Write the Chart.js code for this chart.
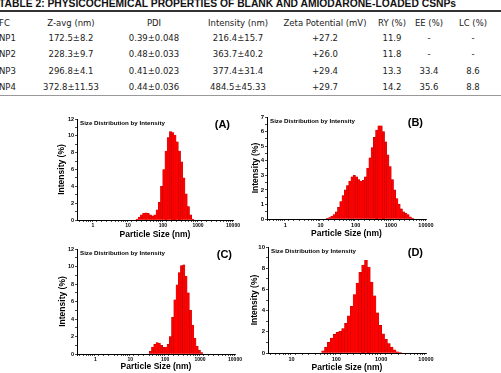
<!DOCTYPE html>
<html>
<head>
<meta charset="utf-8">
<script src="https://cdn.jsdelivr.net/npm/chart.js@4.4.0/dist/chart.umd.min.js"></script>
<style>
  html, body { margin: 0; padding: 0; background: #fff; }
  body { width: 501px; height: 373px; position: relative; overflow: hidden; }
  #tbl { position: absolute; left: 0; top: 0; width: 501px; height: 100px; font-family: "DejaVu Sans"; font-size: 8.5px; color: #222; }
  .cap { position: absolute; left: -1px; top: -1px; font: bold 10.3px/10px "Liberation Sans", Arial; white-space: nowrap; color: #111; }
  .rule { position: absolute; left: 0; width: 501px; }
  .cell { position: absolute; white-space: nowrap; line-height: 10px; transform: translate(-50%, -50%); }
  .cell.first { transform: translate(0, -50%); }
  canvas { position: absolute; }
</style>
</head>
<body>
<div id="tbl">
  <div class="cap">TABLE 2: PHYSICOCHEMICAL PROPERTIES OF BLANK AND AMIODARONE-LOADED CSNPs</div>
  <div class="rule" style="top:9.5px;height:2px;background:#333"></div>
  <div class="rule" style="top:95px;height:1px;background:#999"></div>
</div>
<canvas id="cA" width="195" height="132" style="left:55px;top:108px"></canvas>
<canvas id="cB" width="190" height="131" style="left:249px;top:108px"></canvas>
<canvas id="cC" width="195" height="132" style="left:55px;top:240px"></canvas>
<canvas id="cD" width="190" height="135" style="left:249px;top:238px"></canvas>
<script>
// table 2
const tableHead = ['FC', 'Z-avg (nm)', 'PDI', 'Intensity (nm)', 'Zeta Potential (mV)', 'RY (%)', 'EE (%)', 'LC (%)'];
const formulations = ['NP1', 'NP2', 'NP3', 'NP4'];
const zAverage = ['172.5±8.2', '228.3±9.7', '296.8±4.1', '372.8±11.53'];
const pdi = ['0.39±0.048', '0.48±0.033', '0.41±0.023', '0.44±0.036'];
const intensityPeak = ['216.4±15.7', '363.7±40.2', '377.4±31.4', '484.5±45.33'];
const zeta = ['+27.2', '+26.0', '+29.4', '+29.7'];
const ry = ['11.9', '11.8', '13.3', '14.2'];
const ee = ['-', '-', '33.4', '35.6'];
const lc = ['-', '-', '8.6', '8.8'];

// size bins (nm) and intensity (%) per sample
const sizeNm = [13.54, 15.69, 18.17, 21.04, 24.36, 28.21, 32.67, 37.84, 43.82, 50.75,
  58.77, 68.06, 78.82, 91.28, 105.7, 122.4, 141.8, 164.2, 190.1, 220.2,
  255.0, 295.3, 342.0, 396.1, 458.7, 531.2, 615.1, 712.4, 825.0, 955.4,
  1106, 1281, 1484, 1718, 1990, 2305, 2669, 3091, 3580, 4145, 4801];
const intensityA = [0, 0, 0.1, 0.35, 0.6, 0.8, 0.85, 0.8, 0.6, 0.5,
  0.6, 1.2, 2.1, 4.0, 6.0, 8.2, 9.8, 10.5, 10.4, 10.1,
  9.3, 8.2, 6.9, 5.0, 3.1, 1.6, 0.6, 0.1, 0, 0,
  0, 0, 0, 0, 0, 0, 0, 0, 0, 0, 0];
const intensityB = [0, 0.05, 0.1, 0.2, 0.3, 0.5, 0.8, 1.2, 1.6, 2.0,
  2.3, 2.6, 2.9, 3.0, 2.9, 2.7, 2.6, 2.65, 2.9, 3.5,
  4.2, 4.9, 5.6, 6.1, 6.4, 6.4, 6.0, 5.3, 4.4, 3.6,
  2.7, 2.0, 1.4, 1.0, 0.7, 0.5, 0.4, 0.3, 0.15, 0.05, 0];
const intensityC = [0, 0, 0, 0, 0, 0, 0, 0.3, 0.8, 1.1,
  1.3, 1.25, 1.0, 0.75, 0.8, 1.1, 2.0, 4.2, 6.2, 7.9,
  9.3, 10.1, 10.2, 8.9, 7.0, 5.0, 3.3, 1.8, 0.9, 0.45,
  0.15, 0, 0, 0, 0, 0, 0, 0, 0, 0, 0];
const intensityD = [0, 0, 0, 0, 0, 0, 0, 0, 0, 0.2,
  0.55, 1.0, 1.4, 1.75, 1.95, 2.05, 2.3, 2.8, 3.5, 4.4,
  5.5, 6.6, 7.6, 8.3, 8.75, 8.1, 6.7, 5.4, 3.8, 2.6,
  1.8, 1.3, 0.9, 0.55, 0.3, 0.12, 0.04, 0, 0, 0, 0];

// draw the table text
const tbl = document.getElementById('tbl');
const colX = [-1, 71, 154, 238, 325, 392, 429, 473];
const rowY = [22.7, 38.3, 54.3, 70.8, 87.3];
const rows = [tableHead].concat(formulations.map((f, i) =>
  [f, zAverage[i], pdi[i], intensityPeak[i], zeta[i], ry[i], ee[i], lc[i]]));
rows.forEach((r, ri) => {
  r.forEach((txt, ci) => {
    const d = document.createElement('div');
    d.className = 'cell' + (ci === 0 ? ' first' : '');
    d.style.left = colX[ci] + 'px';
    d.style.top = rowY[ri] + 'px';
    d.textContent = txt;
    tbl.appendChild(d);
  });
});

const panelText = {
  id: 'panelText',
  afterDraw(chart, args, o) {
    const { ctx, chartArea: a } = chart;
    ctx.save();
    ctx.fillStyle = '#000';
    ctx.textBaseline = 'middle';
    ctx.textAlign = 'left';
    ctx.font = 'bold 6.2px "Liberation Sans"';
    ctx.fillText('Size Distribution by Intensity', a.left + 3, a.top + 4);
    ctx.textAlign = 'right';
    ctx.font = 'bold 11px "Liberation Sans"';
    ctx.fillText(o.letter, a.right - 3, a.top + 5.5);
    ctx.restore();
  }
};

const isDecade = v => {
  const l = Math.log10(v);
  return Math.abs(l - Math.round(l)) < 1e-6;
};

const panels = [
  { id: 'cA', values: intensityA, letter: '(A)', yMax: 12, yStep: 1, yEvery: 2, xMin: 0.35, tick: 5.5, axisW: 22, axisH: 20, pad: { top: 11, right: 17 }, titlePad: 2 },
  { id: 'cB', values: intensityB, letter: '(B)', yMax: 7, yStep: 0.5, yEvery: 1, xMin: 0.3, tick: 6, axisW: 18, axisH: 20, pad: { top: 9, right: 13 }, titlePad: 2 },
  { id: 'cC', values: intensityC, letter: '(C)', yMax: 12, yStep: 1, yEvery: 2, xMin: 0.3, tick: 5.5, axisW: 22, axisH: 18, pad: { top: 9, right: 15 }, titlePad: 3 },
  { id: 'cD', values: intensityD, letter: '(D)', yMax: 10, yStep: 1, yEvery: 2, xMin: 3, tick: 6, axisW: 19, axisH: 20, pad: { top: 9, right: 13 }, titlePad: 1 }
];

panels.forEach(p => {
  new Chart(document.getElementById(p.id), {
    type: 'bar',
    data: {
      labels: sizeNm,
      datasets: [{
        data: p.values,
        backgroundColor: '#ff0000',
        borderColor: '#b00000',
        borderWidth: 0.4,
        barThickness: 'flex',
        barPercentage: 1,
        categoryPercentage: 1
      }]
    },
    options: {
      responsive: false,
      animation: false,
      devicePixelRatio: 1,
      layout: { padding: { left: 0, top: p.pad.top, right: p.pad.right, bottom: 0 } },
      plugins: {
        legend: { display: false },
        tooltip: { enabled: false },
        panelText: { letter: p.letter }
      },
      scales: {
        x: {
          type: 'logarithmic',
          min: p.xMin,
          max: 10000,
          afterFit: s => { s.height = p.axisH; },
          border: { color: '#000', width: 1 },
          grid: { drawOnChartArea: false, color: '#000', tickLength: 2, lineWidth: 0.7 },
          ticks: {
            autoSkip: false, maxRotation: 0, padding: 1, color: '#000',
            font: { family: 'Liberation Sans', size: p.tick - 0.5, weight: 'bold' },
            callback: v => isDecade(v) ? String(v) : ''
          },
          title: {
            display: true, text: 'Particle Size (nm)', color: '#000', padding: 0,
            font: { family: 'Liberation Sans', size: 8.5, weight: 'bold' }
          }
        },
        y: {
          min: 0,
          max: p.yMax,
          afterFit: s => { s.width = p.axisW; },
          border: { color: '#000', width: 1 },
          grid: { drawOnChartArea: false, color: '#000', tickLength: 2, lineWidth: 0.7 },
          ticks: {
            stepSize: p.yStep, autoSkip: false, padding: 1, color: '#000',
            font: { family: 'Liberation Sans', size: p.tick, weight: 'bold' },
            callback: v => (v % p.yEvery === 0 ? String(v) : '')
          },
          title: {
            display: true, text: 'Intensity (%)', color: '#000', padding: { top: p.titlePad, bottom: 0 },
            font: { family: 'Liberation Sans', size: 8.5, weight: 'bold' }
          }
        }
      }
    },
    plugins: [panelText]
  });
});
</script>
</body>
</html>
